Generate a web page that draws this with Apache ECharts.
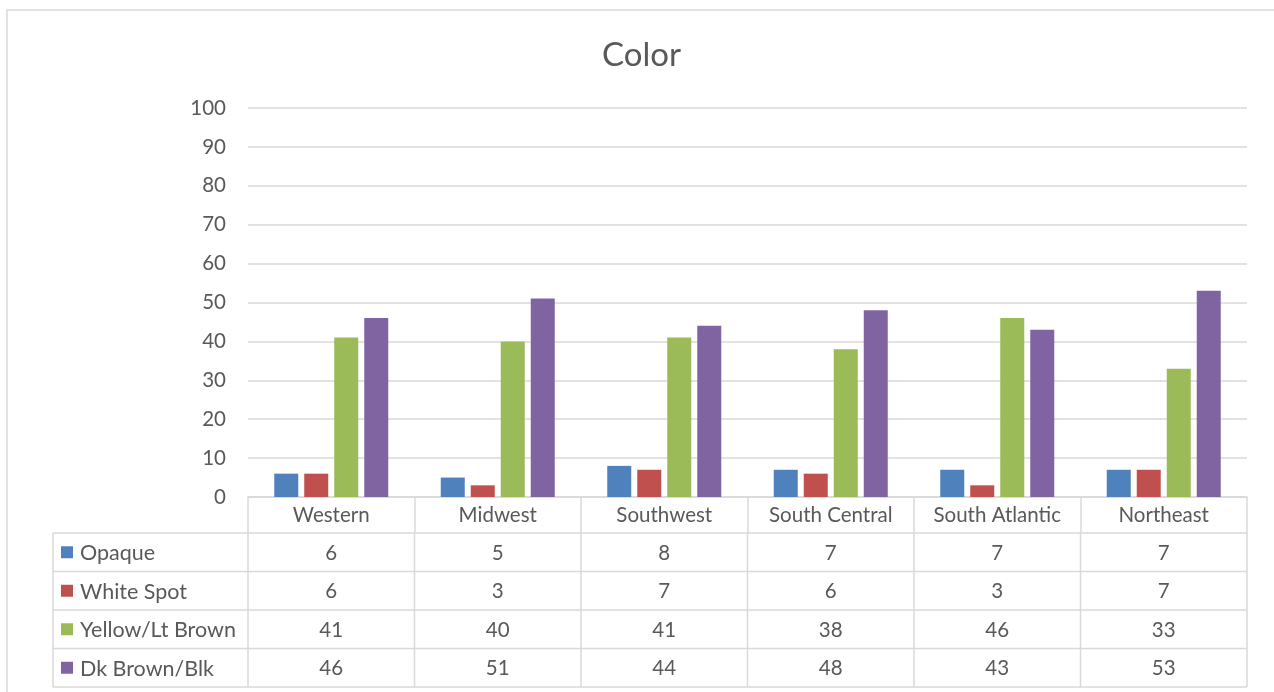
<!DOCTYPE html>
<html><head><meta charset="utf-8">
<script src="https://cdn.jsdelivr.net/npm/echarts@6/dist/echarts.min.js"></script>
<style>html,body{margin:0;padding:0;background:#fff}#c{width:1274px;height:692px}</style>
</head><body><div id="c"></div>
<script>
const categories = ['Western', 'Midwest', 'Southwest', 'South Central', 'South Atlantic', 'Northeast'];
const seriesNames = ['Opaque', 'White Spot', 'Yellow/Lt Brown', 'Dk Brown/Blk'];
const opaque = [6, 5, 8, 7, 7, 7];
const whiteSpot = [6, 3, 7, 6, 3, 7];
const yellowLtBrown = [41, 40, 41, 38, 46, 33];
const dkBrownBlk = [46, 51, 44, 48, 43, 53];
const yTickLabels = ['0', '10', '20', '30', '40', '50', '60', '70', '80', '90', '100'];

const seriesValues = [opaque, whiteSpot, yellowLtBrown, dkBrownBlk];
const colors = ['#4f81bd', '#c0504d', '#9bbb59', '#8064a2'];
const FONT = 'Lato';
const TXT = '#595959';
const LINE = '#d9d9d9';

const chart = echarts.init(document.getElementById('c'));
const option = {
  animation: false,
  backgroundColor: '#fff',
  textStyle: { fontFamily: FONT },
  title: {
    text: 'Color', left: 597, top: 34,
    textStyle: { fontFamily: FONT, fontSize: 33, fontWeight: 'normal', color: TXT }
  },
  grid: { left: 248, right: 27, top: 108, bottom: 195, containLabel: false },
  xAxis: {
    type: 'category', data: categories,
    axisLine: { show: true, lineStyle: { color: LINE, width: 1.5 } },
    axisTick: { show: true, alignWithLabel: false, length: 36, lineStyle: { color: LINE, width: 1.5 } },
    axisLabel: { fontFamily: FONT, fontSize: 20.5, color: TXT, margin: 8, interval: 0 }
  },
  yAxis: {
    type: 'value', min: 0, max: 100, interval: 10,
    axisLine: { show: false }, axisTick: { show: false },
    axisLabel: { fontFamily: FONT, fontSize: 20.5, color: TXT, margin: 22,
      formatter: (v) => yTickLabels[Math.round(v / 10)] },
    splitLine: { lineStyle: { color: LINE, width: 1.5 } }
  },
  series: seriesNames.map((n, i) => ({
    name: n, type: 'bar', data: seriesValues[i], barWidth: 24, barGap: '25%',
    itemStyle: { color: colors[i] }
  }))
};
chart.setOption(option);

// Data table below the axis, positioned from the axis scale
const c0 = chart.convertToPixel({ xAxisIndex: 0 }, categories[0]);
const c1 = chart.convertToPixel({ xAxisIndex: 0 }, categories[1]);
const band = c1 - c0;
const gridLeft = c0 - band / 2;
const gridRight = gridLeft + band * categories.length;
const yZero = chart.convertToPixel({ yAxisIndex: 0 }, 0);
const headerH = 36;
const rowH = 38.5;
const tableLeft = 53;
const tableTop = yZero + headerH;
const els = [];
// outer chart border
els.push({ type: 'rect', shape: { x: 7, y: 10, width: 1300, height: 720 }, style: { fill: null, stroke: LINE, lineWidth: 1.5 }, silent: true });
for (let r = 0; r <= seriesNames.length; r++) {
  const y = tableTop + r * rowH;
  els.push({ type: 'line', shape: { x1: tableLeft, y1: y, x2: gridRight, y2: y }, style: { stroke: LINE, lineWidth: 1.5 } });
}
const bottomY = tableTop + seriesNames.length * rowH;
els.push({ type: 'line', shape: { x1: tableLeft, y1: tableTop, x2: tableLeft, y2: bottomY }, style: { stroke: LINE, lineWidth: 1.5 } });
for (let k = 0; k <= categories.length; k++) {
  const x = gridLeft + k * band;
  els.push({ type: 'line', shape: { x1: x, y1: tableTop, x2: x, y2: bottomY }, style: { stroke: LINE, lineWidth: 1.5 } });
}
seriesNames.forEach((n, r) => {
  const yc = tableTop + r * rowH + rowH / 2 + 1;
  els.push({ type: 'rect', shape: { x: 61, y: yc - 7, width: 12, height: 12 }, style: { fill: colors[r] } });
  els.push({ type: 'text', x: 80, y: yc, style: { text: n, fontFamily: FONT, fontSize: 21.5, fill: TXT, textVerticalAlign: 'middle', textAlign: 'left' } });
  seriesValues[r].forEach((v, k) => {
    const xc = chart.convertToPixel({ xAxisIndex: 0 }, categories[k]);
    els.push({ type: 'text', x: xc, y: yc, style: { text: String(v), fontFamily: FONT, fontSize: 20.5, fill: TXT, textVerticalAlign: 'middle', textAlign: 'center' } });
  });
});
chart.setOption({ graphic: { elements: els } });
</script></body></html>
